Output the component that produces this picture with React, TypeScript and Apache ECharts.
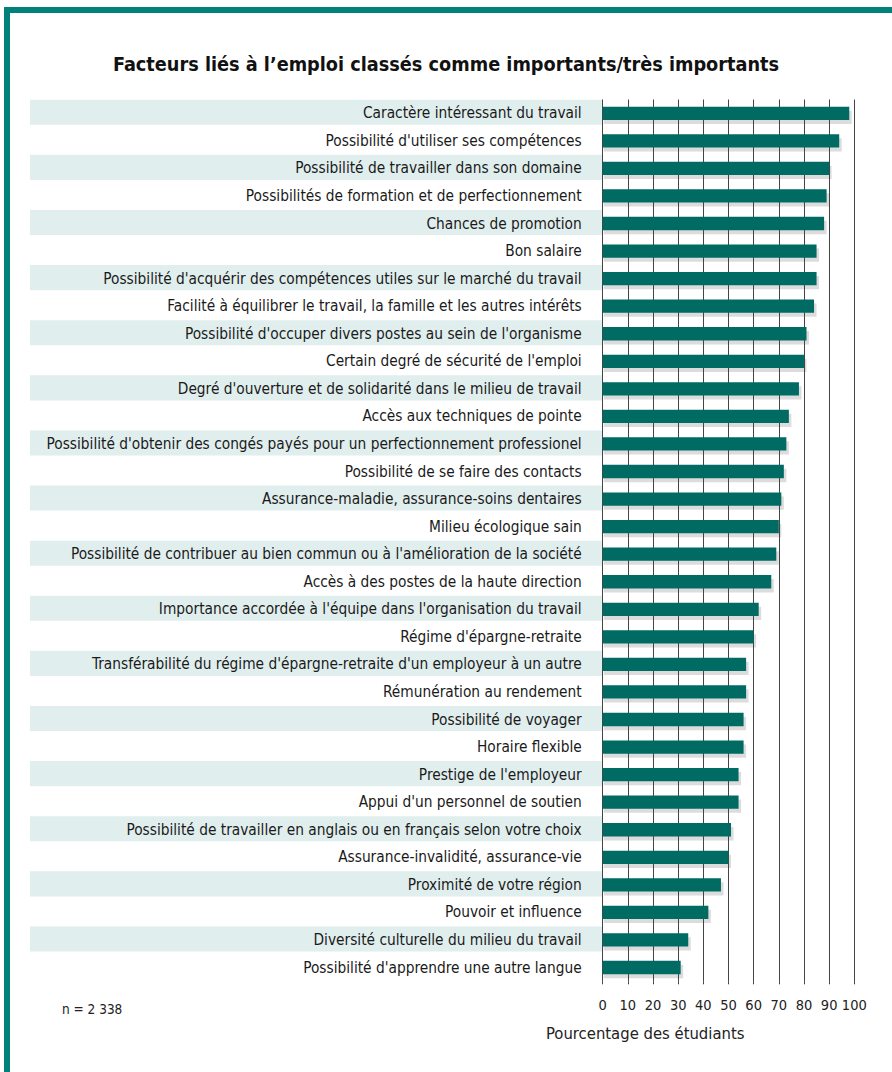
import React, { useEffect, useRef } from "react";
import * as echarts from "echarts";

const categories = [
  "Caractère intéressant du travail",
  "Possibilité d'utiliser ses compétences",
  "Possibilité de travailler dans son domaine",
  "Possibilités de formation et de perfectionnement",
  "Chances de promotion",
  "Bon salaire",
  "Possibilité d'acquérir des compétences utiles sur le marché du travail",
  "Facilité à équilibrer le travail, la famille et les autres intérêts",
  "Possibilité d'occuper divers postes au sein de l'organisme",
  "Certain degré de sécurité de l'emploi",
  "Degré d'ouverture et de solidarité dans le milieu de travail",
  "Accès aux techniques de pointe",
  "Possibilité d'obtenir des congés payés pour un perfectionnement professionel",
  "Possibilité de se faire des contacts",
  "Assurance-maladie, assurance-soins dentaires",
  "Milieu écologique sain",
  "Possibilité de contribuer au bien commun ou à l'amélioration de la société",
  "Accès à des postes de la haute direction",
  "Importance accordée à l'équipe dans l'organisation du travail",
  "Régime d'épargne-retraite",
  "Transférabilité du régime d'épargne-retraite d'un employeur à un autre",
  "Rémunération au rendement",
  "Possibilité de voyager",
  "Horaire flexible",
  "Prestige de l'employeur",
  "Appui d'un personnel de soutien",
  "Possibilité de travailler en anglais ou en français selon votre choix",
  "Assurance-invalidité, assurance-vie",
  "Proximité de votre région",
  "Pouvoir et influence",
  "Diversité culturelle du milieu du travail",
  "Possibilité d'apprendre une autre langue",
];

const values = [
  98, 94, 90, 89, 88, 85, 85, 84, 81, 80, 78, 74, 73, 72, 71, 70, 69, 67, 62, 60,
  57, 57, 56, 56, 54, 54, 51, 50, 47, 42, 34, 31,
];

const xTicks = [0, 10, 20, 30, 40, 50, 60, 70, 80, 90, 100];

const titleText = "Facteurs liés à l’emploi classés comme importants/très importants";
const axisTitle = "Pourcentage des étudiants";
const sampleNote = "n = 2 338";

const FONT = "'Liberation Sans Narrow', 'DejaVu Sans Condensed', 'Arial Narrow', sans-serif";

export default function App() {
  const ref = useRef<HTMLDivElement>(null);
  useEffect(() => {
    document.body.style.margin = "0";
    const chart = echarts.init(ref.current!, null, { renderer: "svg" });
    const data = values.map((v, i) => [v, i]);
    const gridLeft = 602.7;
    chart.setOption({
      animation: false,
      backgroundColor: "#ffffff",
      textStyle: { fontFamily: FONT },
      title: {
        text: titleText,
        left: "center",
        top: 49,
        textStyle: { fontFamily: FONT, fontSize: 19.7, fontWeight: "bold", color: "#111" },
      },
      grid: { left: gridLeft, right: 892 - 854.3, top: 99.5, bottom: 1072 - 981.3 },
      xAxis: {
        type: "value",
        min: 0,
        max: 100,
        interval: 10,
        z: 1,
        axisLine: { show: false },
        axisTick: { show: true, length: 3, lineStyle: { color: "#444", width: 1 } },
        splitLine: { show: true, lineStyle: { color: "#444", width: 1 } },
        axisLabel: {
          fontFamily: FONT,
          fontSize: 14.5,
          color: "#222",
          margin: 16,
          formatter: (v: number) => (xTicks.includes(v) ? String(v) : ""),
        },
      },
      yAxis: {
        type: "category",
        data: categories,
        inverse: true,
        axisLine: { show: false },
        axisTick: { show: false },
        splitLine: { show: false },
        axisLabel: { fontFamily: FONT, fontSize: 15.3, color: "#1a1a1a", margin: 21 },
      },
      graphic: [
        { type: "rect", shape: { x: 4, y: 7, width: 888, height: 6 }, style: { fill: "#00817a" } },
        { type: "rect", shape: { x: 4, y: 7, width: 6, height: 1065 }, style: { fill: "#00817a" } },
        {
          type: "text",
          left: 62,
          top: 1002,
          style: { text: sampleNote, fontFamily: FONT, fontSize: 13.5, fill: "#222" },
        },
        {
          type: "text",
          left: 546,
          top: 1025,
          style: { text: axisTitle, fontFamily: FONT, fontSize: 16.5, fill: "#222" },
        },
      ],
      series: [
        {
          type: "custom",
          name: "bands",
          z: -1,
          clip: false,
          silent: true,
          data,
          encode: { x: 0, y: 1 },
          renderItem: (params: any, api: any) => {
            const idx = api.value(1);
            if (idx % 2 !== 0) return null;
            const p = api.coord([0, idx]);
            const step = api.size([0, 1])[1];
            const h = step * 0.91;
            return {
              type: "rect",
              shape: { x: 30, y: p[1] - h / 2 - 1, width: p[0] - 30, height: h },
              style: { fill: "#e1eeee" },
            };
          },
        },
        {
          type: "custom",
          name: "shadow",
          z: 0,
          silent: true,
          data,
          encode: { x: 0, y: 1 },
          renderItem: (params: any, api: any) => {
            const s = api.coord([0, api.value(1)]);
            const e = api.coord([api.value(0), api.value(1)]);
            const h = 13.3;
            return {
              type: "rect",
              shape: { x: s[0] + 1, y: e[1] - h / 2 + 4, width: e[0] - s[0] + 1.5, height: h },
              style: { fill: "#dcdcdc" },
            };
          },
        },
        {
          type: "custom",
          name: "bars",
          z: 3,
          data,
          encode: { x: 0, y: 1 },
          renderItem: (params: any, api: any) => {
            const s = api.coord([0, api.value(1)]);
            const e = api.coord([api.value(0), api.value(1)]);
            const h = 13.3;
            return {
              type: "rect",
              shape: { x: s[0], y: e[1] - h / 2, width: e[0] - s[0], height: h },
              style: { fill: "#006b63" },
            };
          },
        },
      ],
    });
    return () => chart.dispose();
  }, []);
  return <div ref={ref} style={{ width: 892, height: 1072 }} />;
}
